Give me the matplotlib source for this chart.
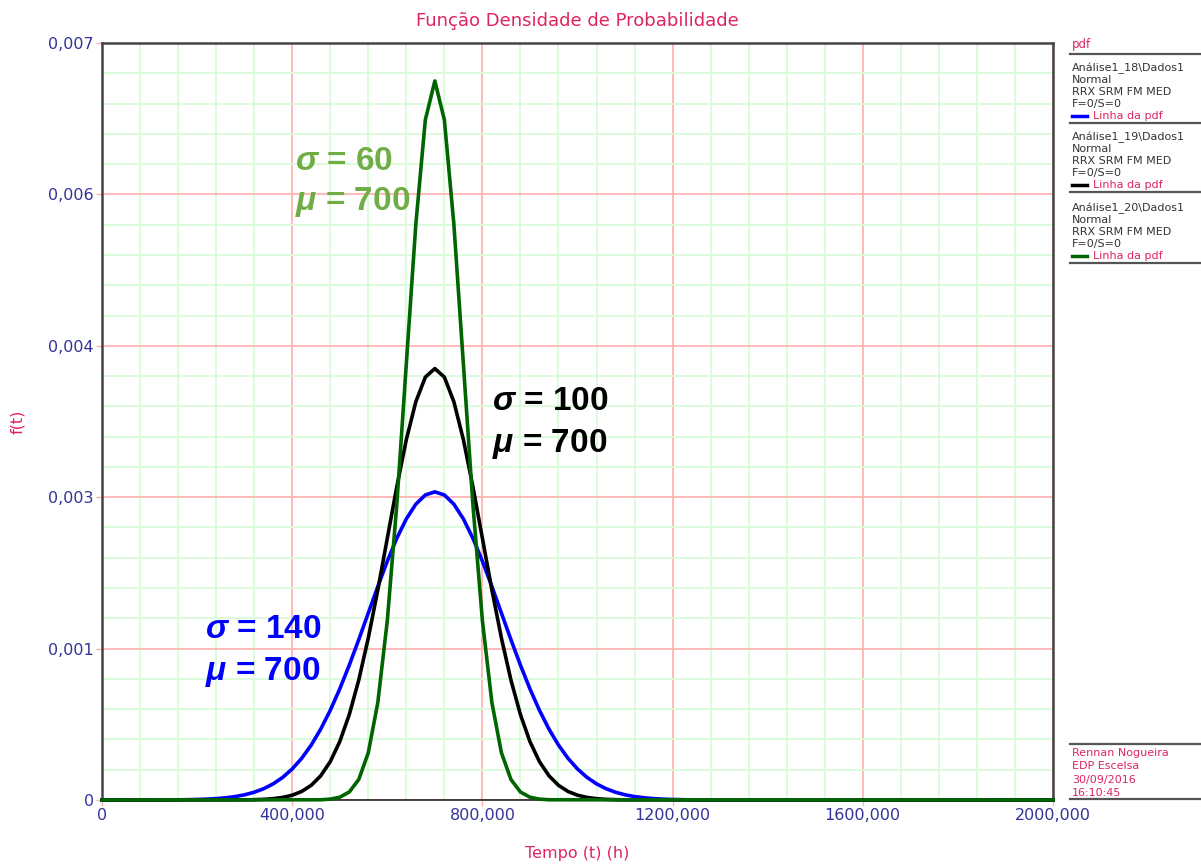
import matplotlib
matplotlib.use("Agg")
import matplotlib.pyplot as plt
from matplotlib.ticker import MultipleLocator, FuncFormatter
from matplotlib.lines import Line2D

plt.rcParams["font.family"] = ["DejaVu Sans"]
plt.rcParams["mathtext.fontset"] = "custom"
plt.rcParams["mathtext.bfit"] = "Liberation Sans:italic:bold"
plt.rcParams["mathtext.rm"] = "Liberation Sans:bold"

# ==================================
# DATA
# ==================================

# sigma = 140, mu = 700
blue_t = [0, 140, 160, 180, 200, 220, 240, 260, 280, 300, 320, 340, 360, 380,
          400, 420, 440, 460, 480, 500, 520, 540, 560, 580, 600, 620, 640,
          660, 680, 700, 720, 740, 760, 780, 800, 820, 840, 860, 880, 900,
          920, 940, 960, 980, 1000, 1020, 1040, 1060, 1080, 1100, 1120, 1140,
          1160, 1180, 1200, 1220, 1240, 1260, 2000]
blue_f = [0, 0.0000010, 0.0000017, 0.0000029, 0.0000048, 0.0000080, 0.0000129,
          0.0000204, 0.0000317, 0.0000481, 0.0000716, 0.0001045, 0.0001493,
          0.0002091, 0.0002869, 0.0003857, 0.0005080, 0.0006556, 0.0008290,
          0.0010271, 0.0012469, 0.0014831, 0.0017284, 0.0019735, 0.0022080,
          0.0024203, 0.0025996, 0.0027356, 0.0028207, 0.0028496, 0.0028207,
          0.0027356, 0.0025996, 0.0024203, 0.0022080, 0.0019735, 0.0017284,
          0.0014831, 0.0012469, 0.0010271, 0.0008290, 0.0006556, 0.0005080,
          0.0003857, 0.0002869, 0.0002091, 0.0001493, 0.0001045, 0.0000716,
          0.0000481, 0.0000317, 0.0000204, 0.0000129, 0.0000080, 0.0000048,
          0.0000029, 0.0000017, 0.0000010, 0]

# sigma = 100, mu = 700
black_t = [0, 300, 320, 340, 360, 380, 400, 420, 440, 460, 480, 500, 520, 540,
           560, 580, 600, 620, 640, 660, 680, 700, 720, 740, 760, 780, 800,
           820, 840, 860, 880, 900, 920, 940, 960, 980, 1000, 1020, 1040, 1060,
           1080, 1100, 2000]
black_f = [0, 0.0000013, 0.0000029, 0.0000061, 0.0000123, 0.0000238, 0.0000443,
           0.0000792, 0.0001358, 0.0002239, 0.0003547, 0.0005399, 0.0007895,
           0.0011092, 0.0014973, 0.0019419, 0.0024197, 0.0028969, 0.0033322,
           0.0036827, 0.0039104, 0.0039894, 0.0039104, 0.0036827, 0.0033322,
           0.0028969, 0.0024197, 0.0019419, 0.0014973, 0.0011092, 0.0007895,
           0.0005399, 0.0003547, 0.0002239, 0.0001358, 0.0000792, 0.0000443,
           0.0000238, 0.0000123, 0.0000061, 0.0000029, 0.0000013, 0]

# sigma = 60, mu = 700
green_t = [0, 460, 480, 500, 520, 540, 560, 580, 600, 620, 640, 660, 680, 700,
           720, 740, 760, 780, 800, 820, 840, 860, 880, 900, 920, 940, 2000]
green_f = [0, 0.0000022, 0.0000080, 0.0000257, 0.0000739, 0.0001899, 0.0004370,
           0.0008999, 0.0016579, 0.0027335, 0.0040328, 0.0053241, 0.0062897,
           0.0066490, 0.0062897, 0.0053241, 0.0040328, 0.0027335, 0.0016579,
           0.0008999, 0.0004370, 0.0001899, 0.0000739, 0.0000257, 0.0000080,
           0.0000022, 0]

legend_entries = ["Análise1_18\\Dados1", "Análise1_19\\Dados1", "Análise1_20\\Dados1"]
footer_lines = ["Rennan Nogueira", "EDP Escelsa", "30/09/2016", "16:10:45"]

CRIMSON = "#E0245E"
NAVY = "#333399"
BLUE = "#0000FF"
DARKGREEN = "#006400"

# ==================================
# FIGURE
# ==================================

fig = plt.figure(figsize=(12.01, 8.65), dpi=100)
ax = fig.add_axes([102 / 1201, 1 - 800 / 865, (1053 - 102) / 1201, (800 - 43) / 865])

ax.plot(blue_t, blue_f, color=BLUE, lw=2.6, zorder=3, clip_on=False)
ax.plot(black_t, black_f, color="black", lw=2.6, zorder=4, clip_on=False)
ax.plot(green_t, green_f, color=DARKGREEN, lw=2.6, zorder=5, clip_on=False)

ax.set_xlim(0, 2000)
ax.set_ylim(0, 0.007)

ax.xaxis.set_major_locator(MultipleLocator(400))
ax.xaxis.set_minor_locator(MultipleLocator(80))
ax.yaxis.set_major_locator(MultipleLocator(0.0014))
ax.yaxis.set_minor_locator(MultipleLocator(0.00028))


def fmt_num(v, pos):
    if abs(v) < 1e-12:
        return "0"
    return f"{v:.3f}".replace(".", ",")


ax.xaxis.set_major_formatter(FuncFormatter(fmt_num))
ax.yaxis.set_major_formatter(FuncFormatter(fmt_num))

ax.grid(which="major", color="#FFB3B3", lw=1.3)
ax.grid(which="minor", color="#D9FBD9", lw=1.3)
ax.set_axisbelow(True)

ax.tick_params(which="major", length=4, width=1, color="#FFB3B3",
               labelsize=11.5, labelcolor=NAVY, pad=2)
ax.tick_params(which="minor", length=0)

for side in ["left", "top", "right"]:
    ax.spines[side].set_color("#444444")
    ax.spines[side].set_linewidth(1.8)
ax.spines["bottom"].set_color("#222222")
ax.spines["bottom"].set_linewidth(1.2)

ax.set_xlabel("Tempo (t) (h)", color=CRIMSON, fontsize=11.5, labelpad=16)
ax.set_ylabel("f(t)", color=CRIMSON, fontsize=11.5)
ax.yaxis.set_label_coords(-0.081, 0.5)
ax.set_title("Função Densidade de Probabilidade", color=CRIMSON,
             fontsize=13, pad=12)

# annotations
annot = [
    (406, 0.005826, 0.005456, "60", "#70AD47"),
    (820, 0.003606, 0.003218, "100", "black"),
    (216, 0.001498, 0.001110, "140", BLUE),
]
for x0, y1, y2, s, c in annot:
    ax.text(x0, y1, r"$\mathbfit{\sigma}$" + " = " + s, color=c, fontsize=24,
            family="Liberation Sans", weight="bold", va="baseline", zorder=6)
    ax.text(x0, y2, r"$\mathbfit{\mu}$" + " = 700", color=c, fontsize=24,
            family="Liberation Sans", weight="bold", va="baseline", zorder=6)

# ==================================
# LEGEND PANEL
# ==================================

W, H = 1201, 865


def fx(px):
    return px / W


def fy(py):
    return 1 - py / H


def hline(py, x0=1070, x1=1201):
    fig.add_artist(Line2D([fx(x0), fx(x1)], [fy(py), fy(py)],
                          color="#555555", lw=1.6))


fig.text(fx(1072), fy(48), "pdf", color=CRIMSON, fontsize=8.5, va="baseline")
hline(54)

block_tops = [68, 137, 208]
colors = [BLUE, "black", DARKGREEN]
for top, name, col in zip(block_tops, legend_entries, colors):
    rows = [name, "Normal", "RRX SRM FM MED", "F=0/S=0"]
    for i, r in enumerate(rows):
        fig.text(fx(1072), fy(top + i * 12), r, color="#333333",
                 fontsize=8, va="center")
    yy = top + 4 * 12
    fig.add_artist(Line2D([fx(1072), fx(1087)], [fy(yy), fy(yy)],
                          color=col, lw=2.5))
    fig.text(fx(1093), fy(yy), "Linha da pdf", color=CRIMSON,
             fontsize=8, va="center")
    hline(yy + 7)

hline(744)
for i, r in enumerate(footer_lines):
    fig.text(fx(1072), fy(753 + i * 13.3), r, color=CRIMSON,
             fontsize=8, va="center")
hline(799)

fig.savefig("out.png", dpi=100)
